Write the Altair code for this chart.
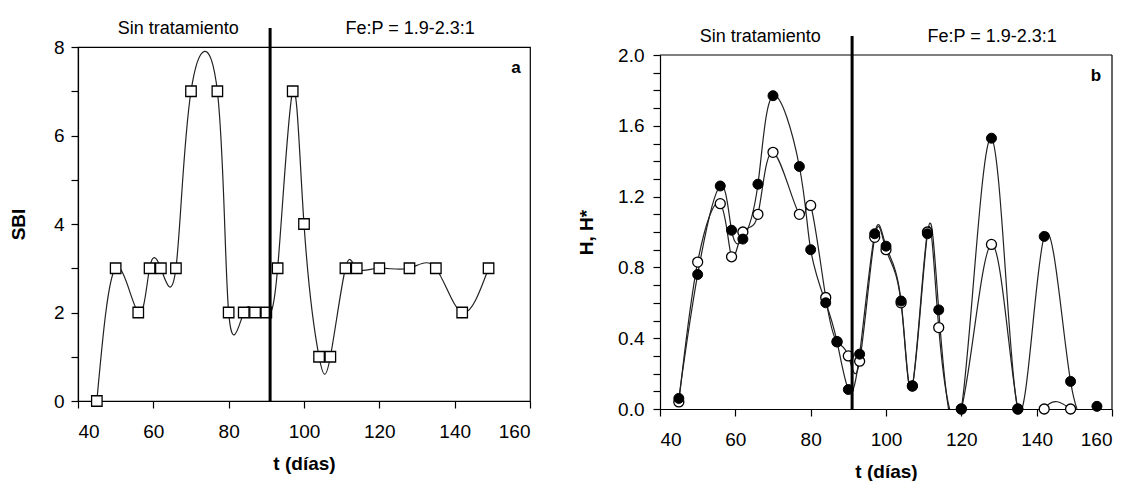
import altair as alt
import pandas as pd

FONT = "Liberation Sans"

# ---- data ----
t_sbi = [45, 50, 56, 59, 62, 66, 70, 77, 80, 84, 87, 90, 93, 97, 100, 104, 107,
         111, 114, 120, 128, 135, 142, 149]
sbi = [0, 3, 2, 3, 3, 3, 7, 7, 2, 2, 2, 2, 3, 7, 4, 1, 1,
       3, 3, 3, 3, 3, 2, 3]

t_h = [45, 50, 56, 59, 62, 66, 70, 77, 80, 84, 87, 90, 93, 97, 100, 104, 107,
       111, 114, 120, 128, 135, 142, 149, 156]
h_filled = [0.06, 0.76, 1.26, 1.01, 0.96, 1.27, 1.77, 1.37, 0.90, 0.60, 0.38, 0.11,
            0.31, 0.99, 0.92, 0.61, 0.13, 0.99, 0.56, 0.0, 1.53, 0.0, 0.975, 0.156, 0.015]

t_hs = [45, 50, 56, 59, 62, 66, 70, 77, 80, 84, 87, 90, 93, 97, 100, 104, 107,
        111, 114, 120, 128, 135, 142, 149]
h_open = [0.04, 0.83, 1.16, 0.86, 1.00, 1.10, 1.45, 1.10, 1.15, 0.63, 0.38, 0.30,
          0.27, 0.97, 0.90, 0.60, 0.13, 1.00, 0.46, 0.0, 0.93, 0.0, 0.0, 0.0]

treat_day = [91]
period_x = [66.6, 128.2]
period_txt = ["Sin tratamiento", "Fe:P = 1.9-2.3:1"]

x_ticks = list(range(40, 161, 5))

W, H = 452, 354
OFF = 8  # panel b sits 8px lower than panel a

df_sbi = pd.DataFrame({"t": t_sbi, "v": sbi})
df_h = pd.DataFrame({"t": t_h, "v": h_filled})
df_hs = pd.DataFrame({"t": t_hs, "v": h_open})
df_vl = pd.DataFrame({"t": treat_day})
df_txt = pd.DataFrame({"t": period_x, "txt": period_txt})

XS = alt.Scale(domain=[40, 160], nice=False, zero=False)


def xenc():
    return alt.X(
        "t:Q", scale=XS,
        axis=alt.Axis(values=x_ticks,
                      labelExpr="datum.value % 20 == 0 ? datum.label : ''",
                      title="t (días)", labelPadding=14, titlePadding=13),
    )


def common(top, bottom):
    vline = alt.Chart(df_vl).mark_rule(color="black", strokeWidth=3, clip=False).encode(
        x=alt.X("t:Q", scale=XS), y=alt.value(top - 19), y2=alt.value(bottom))
    txt = alt.Chart(df_txt).mark_text(font=FONT, fontSize=18, align="center",
                                      baseline="middle", color="black").encode(
        x=alt.X("t:Q", scale=XS), y=alt.value(top - 18), text="txt:N")
    return vline, txt


# ---- panel a ----
ya = alt.Y("v:Q", scale=alt.Scale(domain=[0, 8], nice=False),
           axis=alt.Axis(values=list(range(0, 9)),
                         labelExpr="datum.value % 2 == 0 ? datum.label : ''",
                         title="SBI", labelPadding=7, titlePadding=25))
line_a = alt.Chart(df_sbi).mark_line(interpolate="natural", color="#222222",
                                     strokeWidth=1.2, clip=True).encode(x=xenc(), y=ya)
pts_a = alt.Chart(df_sbi).mark_point(shape="square", size=110, filled=True, fill="white",
                                     stroke="black", strokeWidth=1.3, opacity=1).encode(x=xenc(), y=ya)
vl_a, txt_a = common(0, H)
let_a = alt.Chart(pd.DataFrame({"l": ["a"]})).mark_text(
    font=FONT, fontSize=17, fontWeight="bold", align="center", baseline="middle", color="black"
).encode(x=alt.value(W - 14), y=alt.value(21), text="l:N")
panel_a = alt.layer(line_a, pts_a, vl_a, txt_a, let_a).properties(
    width=W, height=H, view=alt.ViewBackground(stroke="black", strokeWidth=1.2))

# ---- panel b ----
yb = alt.Y("v:Q", scale=alt.Scale(domain=[0, 2], nice=False, range=[H + OFF, OFF]),
           axis=alt.Axis(values=[round(i * 0.1, 1) for i in range(0, 21)],
                         labelExpr="round(datum.value*10) % 4 == 0 ? format(datum.value, '.1f') : ''",
                         title="H, H*", labelPadding=9, titlePadding=21))
line_hs = alt.Chart(df_hs).mark_line(interpolate="natural", color="#222222",
                                     strokeWidth=1.2, clip=True).encode(x=xenc(), y=yb)
line_h = alt.Chart(df_h).mark_line(interpolate="natural", color="#222222",
                                   strokeWidth=1.2, clip=True).encode(x=xenc(), y=yb)
pts_hs = alt.Chart(df_hs).mark_point(shape="circle", size=100, filled=True, fill="white",
                                     stroke="black", strokeWidth=1.3, opacity=1).encode(x=xenc(), y=yb)
pts_h = alt.Chart(df_h).mark_point(shape="circle", size=100, filled=True, fill="black",
                                   stroke="black", strokeWidth=1.0, opacity=1).encode(x=xenc(), y=yb)
vl_b, txt_b = common(OFF, H + OFF)
frame_top = alt.Chart(pd.DataFrame({"s": [0]})).mark_rule(color="black", strokeWidth=1.2).encode(
    x=alt.value(0), x2=alt.value(W), y=alt.value(OFF))
frame_right = alt.Chart(pd.DataFrame({"s": [0]})).mark_rule(color="black", strokeWidth=1.2).encode(
    x=alt.value(W), y=alt.value(OFF), y2=alt.value(H + OFF))
let_b = alt.Chart(pd.DataFrame({"l": ["b"]})).mark_text(
    font=FONT, fontSize=17, fontWeight="bold", align="center", baseline="middle", color="black"
).encode(x=alt.value(W - 16), y=alt.value(OFF + 21), text="l:N")
panel_b = alt.layer(line_hs, line_h, pts_hs, pts_h, vl_b, txt_b, let_b,
                    frame_top, frame_right).properties(
    width=W, height=H + OFF, view=alt.ViewBackground(strokeOpacity=0))

chart = alt.hconcat(panel_a, panel_b, spacing=45).resolve_scale(y="independent").configure(
    font=FONT, padding={"left": 0, "top": 11, "right": 2, "bottom": 2}
).configure_axis(
    grid=False, labelFont=FONT, titleFont=FONT, labelFontSize=19, titleFontSize=19,
    titleFontWeight="bold", labelColor="black", titleColor="black", domainColor="black",
    tickColor="black", tickSize=7, domainWidth=1.2, tickWidth=1.2, labelOverlap=False
)

chart.save("out.html", embed_options={"renderer": "svg", "actions": False})
